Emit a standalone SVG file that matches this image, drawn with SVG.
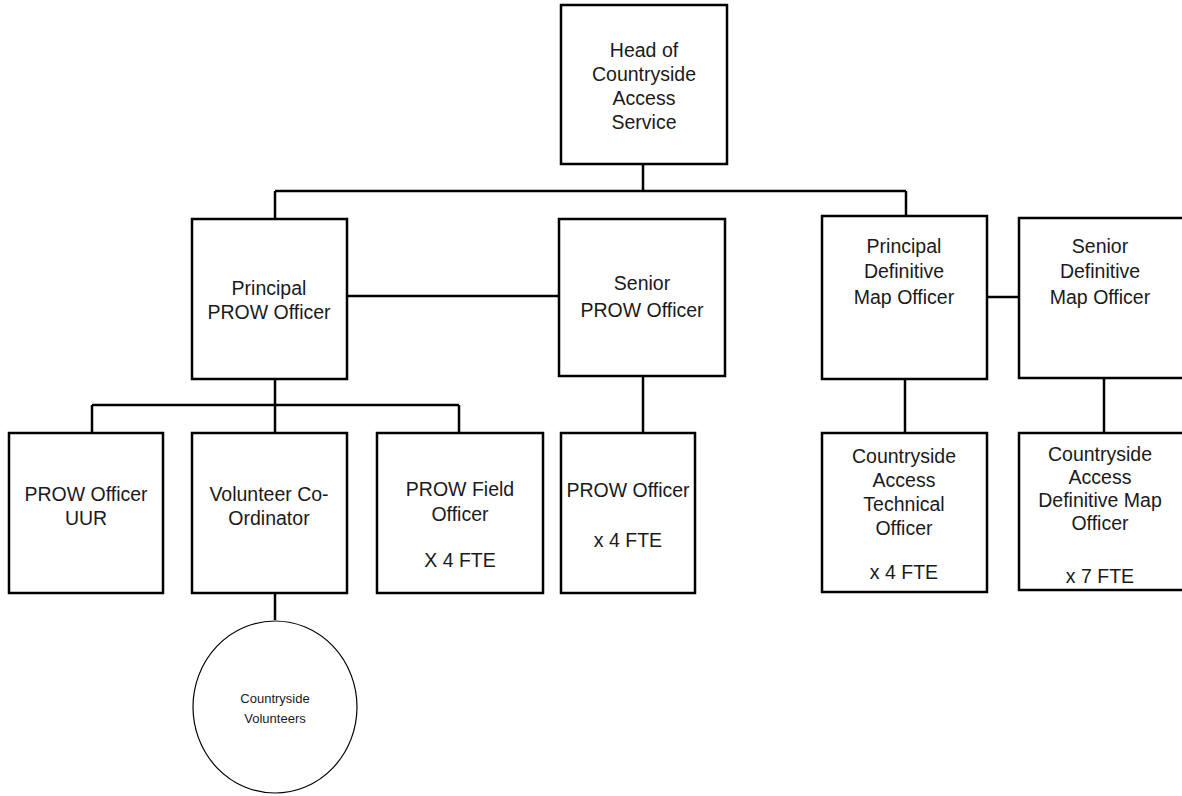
<svg xmlns="http://www.w3.org/2000/svg" width="1182" height="796" viewBox="0 0 1182 796">
<style>
.box{fill:#fff;stroke:#000;stroke-width:2.5}
.circ{fill:#fff;stroke:#000;stroke-width:1.2}
.ln{fill:none;stroke:#000;stroke-width:2.5}
text{font-family:"Liberation Sans",Arial,sans-serif;font-size:19.5px;fill:#1a1a1a;text-anchor:middle}
.sm{font-size:13px}
</style>
<rect width="1182" height="796" fill="#fff"/>
<g id="connectors">
<path class="ln" d="M643 164V191M275 191H906M275 191V219M906 191V216"/>
<path class="ln" d="M347 296H559"/>
<path class="ln" d="M987 297H1019"/>
<path class="ln" d="M275 379V405M92 405H459M92 405V433M275 405V433M459 405V433"/>
<path class="ln" d="M643 376V433"/>
<path class="ln" d="M905 379V433"/>
<path class="ln" d="M1104 378V433"/>
<path class="ln" d="M275 593V620"/>
</g>
<g id="head">
<rect class="box" x="561" y="5" width="166" height="159"/>
<text x="644" y="57">Head of</text>
<text x="644" y="81">Countryside</text>
<text x="644" y="105">Access</text>
<text x="644" y="129">Service</text>
</g>
<g id="principal-prow">
<rect class="box" x="192" y="219" width="155" height="160"/>
<text x="269" y="295">Principal</text>
<text x="269" y="319">PROW Officer</text>
</g>
<g id="senior-prow">
<rect class="box" x="559" y="219" width="166" height="157"/>
<text x="642" y="290">Senior</text>
<text x="642" y="317">PROW Officer</text>
</g>
<g id="principal-def">
<rect class="box" x="822" y="216" width="165" height="163"/>
<text x="904" y="253">Principal</text>
<text x="904" y="278">Definitive</text>
<text x="904" y="304">Map Officer</text>
</g>
<g id="senior-def">
<rect class="box" x="1019" y="218" width="170" height="160"/>
<text x="1100" y="253">Senior</text>
<text x="1100" y="278">Definitive</text>
<text x="1100" y="304">Map Officer</text>
</g>
<g id="prow-uur">
<rect class="box" x="9" y="433" width="154" height="160"/>
<text x="86" y="501">PROW Officer</text>
<text x="86" y="525">UUR</text>
</g>
<g id="volunteer-coord">
<rect class="box" x="192" y="433" width="155" height="160"/>
<text x="269" y="501">Volunteer Co-</text>
<text x="269" y="525">Ordinator</text>
</g>
<g id="prow-field">
<rect class="box" x="377" y="433" width="166" height="160"/>
<text x="460" y="496">PROW Field</text>
<text x="460" y="521">Officer</text>
<text x="460" y="567">X 4 FTE</text>
</g>
<g id="prow-officer">
<rect class="box" x="561" y="433" width="134" height="160"/>
<text x="628" y="497">PROW Officer</text>
<text x="628" y="547">x 4 FTE</text>
</g>
<g id="ca-technical">
<rect class="box" x="822" y="433" width="165" height="159"/>
<text x="904" y="463">Countryside</text>
<text x="904" y="487">Access</text>
<text x="904" y="511">Technical</text>
<text x="904" y="535">Officer</text>
<text x="904" y="579">x 4 FTE</text>
</g>
<g id="ca-defmap">
<rect class="box" x="1019" y="433" width="170" height="157"/>
<text x="1100" y="461">Countryside</text>
<text x="1100" y="484">Access</text>
<text x="1100" y="507">Definitive Map</text>
<text x="1100" y="530">Officer</text>
<text x="1100" y="583">x 7 FTE</text>
</g>
<g id="volunteers">
<ellipse class="circ" cx="275" cy="707" rx="82" ry="86"/>
<text class="sm" x="275" y="703">Countryside</text>
<text class="sm" x="275" y="723">Volunteers</text>
</g>
</svg>
